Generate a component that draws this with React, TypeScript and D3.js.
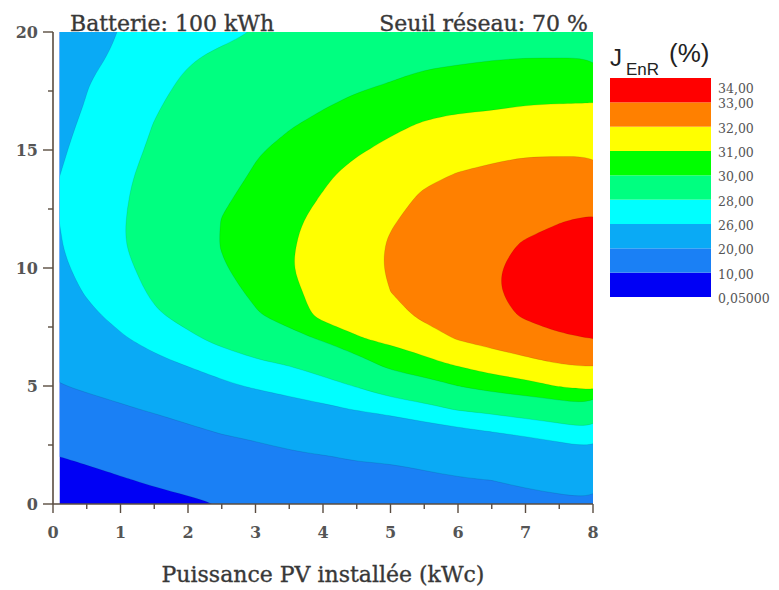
import React from 'react';
import * as d3 from 'd3';

// Grid sample positions (PV power in kWc, second axis 0..20)
const X_VALUES = [0, 0.5, 1, 1.5, 2, 2.5, 3, 3.5, 4, 4.5, 5, 5.5, 6, 6.5, 7, 7.5, 8];
const Y_VALUES = [0, 1, 2, 3, 4, 5, 6, 7, 8, 9, 10, 11, 12, 13, 14, 15, 16, 17, 18, 19, 20];

// J_EnR (%), one row per Y value, one column per X value
const J_ROW_00 = [3.0, 4.5, 6.2, 7.6, 8.9, 10.2, 12.0, 13.8, 15.0, 16.0, 16.8, 17.5, 18.0, 18.3, 18.6, 19.0, 19.3];
const J_ROW_01 = [6.5, 7.8, 9.4, 10.9, 12.1, 13.9, 15.2, 16.6, 17.6, 18.4, 18.6, 19.0, 19.6, 20.0, 20.7, 21.4, 22.2];
const J_ROW_02 = [9.7, 11.2, 12.7, 14.1, 15.4, 17.1, 18.1, 19.2, 19.8, 20.4, 20.6, 21.4, 22.3, 22.9, 23.6, 24.3, 25.0];
const J_ROW_03 = [12.9, 14.5, 16.0, 17.4, 18.8, 20.15, 21.0, 22.0, 22.7, 23.3, 23.7, 24.7, 25.3, 25.85, 26.4, 27.0, 27.6];
const J_ROW_04 = [16.1, 17.8, 19.3, 20.5, 21.9, 23.0, 24.0, 25.0, 25.5, 26.1, 26.8, 27.4, 28.1, 28.5, 29.0, 29.3, 29.6];
const J_ROW_05 = [19.4, 20.9, 21.9, 23.0, 24.6, 25.5, 26.3, 26.8, 27.4, 28.1, 29.1, 29.55, 30.0, 30.5, 30.7, 31.05, 31.3];
const J_ROW_06 = [21.6, 22.9, 24.0, 25.4, 26.3, 27.3, 27.8, 28.2, 28.9, 29.55, 30.45, 30.75, 31.2, 31.5, 31.8, 32.05, 32.2];
const J_ROW_07 = [23.0, 24.4, 25.7, 26.9, 27.7, 28.4, 29.0, 29.6, 30.13, 30.93, 31.2, 31.65, 32.05, 32.35, 32.6, 32.9, 33.0];
const J_ROW_08 = [24.0, 25.5, 26.7, 27.8, 28.5, 29.1, 29.9, 30.45, 31.3, 31.35, 31.75, 32.15, 32.45, 32.75, 33.1, 33.3, 33.4];
const J_ROW_09 = [24.8, 26.2, 27.3, 28.25, 28.95, 29.65, 30.2, 30.75, 31.38, 31.6, 32.0, 32.35, 32.65, 32.93, 33.2, 33.43, 33.65];
const J_ROW_10 = [25.4, 26.6, 27.65, 28.5, 29.2, 29.9, 30.45, 30.95, 31.42, 31.72, 32.08, 32.4, 32.68, 32.93, 33.18, 33.43, 33.65];
const J_ROW_11 = [25.65, 26.95, 27.9, 28.6, 29.3, 30.06, 30.5, 30.9, 31.4, 31.7, 32.06, 32.35, 32.6, 32.85, 33.05, 33.25, 33.45];
const J_ROW_12 = [25.72, 27.1, 27.9, 28.55, 29.25, 30.03, 30.4, 30.8, 31.3, 31.6, 31.95, 32.2, 32.45, 32.7, 32.85, 32.97, 33.1];
const J_ROW_13 = [26.0, 27.0, 27.85, 28.45, 29.15, 29.87, 30.25, 30.65, 31.05, 31.45, 31.75, 32.1, 32.25, 32.5, 32.6, 32.6, 32.7];
const J_ROW_14 = [25.75, 26.85, 27.75, 28.35, 29.0, 29.6, 30.1, 30.45, 30.85, 31.25, 31.5, 31.85, 32.02, 32.15, 32.25, 32.25, 32.3];
const J_ROW_15 = [25.5, 26.65, 27.55, 28.2, 28.8, 29.4, 29.9, 30.25, 30.6, 30.9, 31.2, 31.5, 31.7, 31.8, 31.9, 31.9, 31.9];
const J_ROW_16 = [25.2, 26.4, 27.35, 28.05, 28.6, 29.1, 29.6, 29.95, 30.25, 30.5, 30.85, 31.1, 31.25, 31.3, 31.45, 31.45, 31.45];
const J_ROW_17 = [24.8, 26.1, 27.1, 27.85, 28.4, 28.85, 29.3, 29.65, 29.9, 30.15, 30.4, 30.7, 30.8, 30.85, 30.95, 30.98, 31.0];
const J_ROW_18 = [24.4, 25.85, 26.85, 27.65, 28.15, 28.55, 29.0, 29.3, 29.55, 29.8, 29.95, 30.2, 30.3, 30.4, 30.45, 30.45, 30.45];
const J_ROW_19 = [23.9, 25.35, 26.4, 27.4, 27.85, 28.2, 28.6, 28.95, 29.15, 29.4, 29.5, 29.7, 29.8, 29.9, 29.95, 29.95, 29.95];
const J_ROW_20 = [23.4, 25.0, 26.1, 27.15, 27.55, 27.7, 28.05, 28.55, 28.75, 29.0, 29.05, 29.2, 29.3, 29.45, 29.45, 29.45, 29.5];

const J_GRID = [
  J_ROW_00, J_ROW_01, J_ROW_02, J_ROW_03, J_ROW_04, J_ROW_05, J_ROW_06,
  J_ROW_07, J_ROW_08, J_ROW_09, J_ROW_10, J_ROW_11, J_ROW_12, J_ROW_13,
  J_ROW_14, J_ROW_15, J_ROW_16, J_ROW_17, J_ROW_18, J_ROW_19, J_ROW_20,
];

const LEVELS = [0.05, 10, 20, 26, 28, 30, 31, 32, 33, 34];
const LEVEL_LABELS = ['0,05000', '10,00', '20,00', '26,00', '28,00', '30,00', '31,00', '32,00', '33,00', '34,00'];
const BAND_COLORS = ['#0000F5', '#1A80F5', '#0AAAF5', '#00FFFF', '#00FF80', '#00FF00', '#FFFF00', '#FF8000', '#FF0000'];

const X_TICKS = [0, 1, 2, 3, 4, 5, 6, 7, 8];
const X_MINOR = [0.5, 1.5, 2.5, 3.5, 4.5, 5.5, 6.5, 7.5];
const Y_TICKS = [0, 5, 10, 15, 20];
const Y_MINOR = [2.5, 7.5, 12.5, 17.5];

const TITLE_LEFT = 'Batterie: 100 kWh';
const TITLE_RIGHT = 'Seuil réseau: 70 %';
const X_TITLE = 'Puissance PV installée (kWc)';

const W = 779;
const H = 590;
const PLOT = { left: 53, right: 593, top: 32, bottom: 504 };
const FILL_X_START = 0.1;
const BAR = { left: 610, right: 711, top: 78, bottom: 297 };
const AXIS_COLOR = '#5a4c40';
const TEXT_COLOR = '#383838';
const SERIF = '"DejaVu Serif", serif';
const SANS = '"Liberation Sans", Arial, sans-serif';

export default function App() {
  const xScale = d3.scaleLinear().domain([0, 8]).range([PLOT.left, PLOT.right]);
  const yScale = d3.scaleLinear().domain([0, 20]).range([PLOT.bottom, PLOT.top]);

  const nx = X_VALUES.length;
  const ny = Y_VALUES.length;
  const flat = J_GRID.flat();
  const contours = d3.contours().size([nx, ny]).thresholds(LEVELS.slice(0, -1))(flat);
  const x0 = X_VALUES[0];
  const dx = X_VALUES[1] - X_VALUES[0];
  const y0 = Y_VALUES[0];
  const dy = Y_VALUES[1] - Y_VALUES[0];
  const toPx = (p: number[]): [number, number] => [
    xScale(x0 + (p[0] - 0.5) * dx),
    yScale(y0 + (p[1] - 0.5) * dy),
  ];
  const ringLine = d3
    .line<[number, number]>()
    .x((d) => d[0])
    .y((d) => d[1])
    .curve(d3.curveBasisClosed);

  const contourPath = (c: any): string => {
    let d = '';
    for (const poly of c.coordinates) {
      for (const ring of poly) {
        const pts = ring.slice(0, ring.length - 1).map(toPx);
        d += ringLine(pts) || '';
      }
    }
    return d;
  };

  const barScale = d3.scaleLinear().domain([0, LEVELS.length - 1]).range([BAR.bottom, BAR.top]);

  return (
    <svg width={W} height={H} style={{ position: 'absolute', left: 0, top: 0, background: '#fff' }}>
      <defs>
        <clipPath id="plotClip">
          <rect
            x={xScale(FILL_X_START)}
            y={yScale(20)}
            width={xScale(8) - xScale(FILL_X_START)}
            height={yScale(0) - yScale(20)}
          />
        </clipPath>
      </defs>

      <g clipPath="url(#plotClip)">
        {contours.map((c, i) => (
          <path
            key={i}
            d={contourPath(c)}
            fill={BAND_COLORS[i]}
            fillRule="evenodd"
            stroke="rgba(0,0,0,0.12)"
            strokeWidth={0.8}
          />
        ))}
      </g>

      {/* axes */}
      <line x1={PLOT.left} x2={PLOT.left} y1={PLOT.top} y2={PLOT.bottom} stroke={AXIS_COLOR} strokeWidth={1.6} />
      <line x1={PLOT.left} x2={PLOT.right} y1={PLOT.bottom} y2={PLOT.bottom} stroke={AXIS_COLOR} strokeWidth={1.6} />
      {Y_TICKS.map((t) => (
        <g key={'yt' + t}>
          <line x1={PLOT.left - 10} x2={PLOT.left} y1={yScale(t)} y2={yScale(t)} stroke={AXIS_COLOR} strokeWidth={1.4} />
          <text
            x={PLOT.left - 15}
            y={yScale(t)}
            dy="0.36em"
            textAnchor="end"
            fontFamily={SERIF}
            fontWeight="bold"
            fontSize={16}
            fill="#555"
          >
            {t}
          </text>
        </g>
      ))}
      {Y_MINOR.map((t) => (
        <line key={'ym' + t} x1={PLOT.left - 5} x2={PLOT.left} y1={yScale(t)} y2={yScale(t)} stroke={AXIS_COLOR} strokeWidth={1.4} />
      ))}
      {X_TICKS.map((t) => (
        <g key={'xt' + t}>
          <line x1={xScale(t)} x2={xScale(t)} y1={PLOT.bottom} y2={PLOT.bottom + 9} stroke={AXIS_COLOR} strokeWidth={1.4} />
          <text
            x={xScale(t)}
            y={538}
            textAnchor="middle"
            fontFamily={SERIF}
            fontWeight="bold"
            fontSize={16}
            fill="#555"
          >
            {t}
          </text>
        </g>
      ))}
      {X_MINOR.map((t) => (
        <line key={'xm' + t} x1={xScale(t)} x2={xScale(t)} y1={PLOT.bottom} y2={PLOT.bottom + 5} stroke={AXIS_COLOR} strokeWidth={1.4} />
      ))}

      {/* titles */}
      <text x={70} y={31} fontFamily={SERIF} fontSize={22} fill={TEXT_COLOR} stroke={TEXT_COLOR} strokeWidth={0.35}>
        {TITLE_LEFT}
      </text>
      <text x={588} y={31} textAnchor="end" fontFamily={SERIF} fontSize={22} fill={TEXT_COLOR} stroke={TEXT_COLOR} strokeWidth={0.35}>
        {TITLE_RIGHT}
      </text>
      <text
        x={(PLOT.left + PLOT.right) / 2}
        y={582}
        textAnchor="middle"
        fontFamily={SERIF}
        fontSize={22}
        fill={TEXT_COLOR}
        stroke={TEXT_COLOR}
        strokeWidth={0.35}
      >
        {X_TITLE}
      </text>

      {/* colour scale */}
      <text x={BAR.left} y={66} fontFamily={SANS} fontSize={24} fill="#222">J</text>
      <text x={BAR.left + 16} y={75} fontFamily={SANS} fontSize={17} fill="#222">EnR</text>
      <text x={BAR.left + 59} y={62} fontFamily={SANS} fontSize={26} fill="#222">(%)</text>
      {BAND_COLORS.map((col, i) => (
        <rect
          key={'band' + i}
          x={BAR.left}
          y={barScale(i + 1)}
          width={BAR.right - BAR.left}
          height={barScale(i) - barScale(i + 1)}
          fill={col}
        />
      ))}
      {LEVEL_LABELS.map((lab, i) => {
        const isTop = i === LEVEL_LABELS.length - 1;
        const yy = isTop ? barScale(i) + 10 : barScale(i) + 1.5;
        return (
          <text
            key={'lab' + i}
            x={BAR.right + 7}
            y={yy}
            dy="0.36em"
            fontFamily={SERIF}
            fontSize={12.5}
            fill="#555"
          >
            {lab}
          </text>
        );
      })}
    </svg>
  );
}
